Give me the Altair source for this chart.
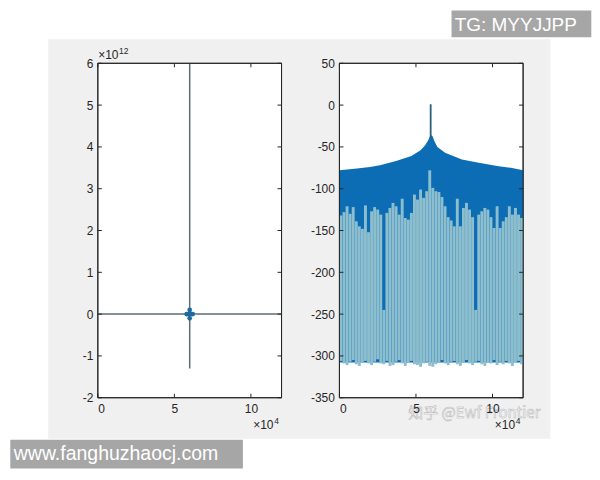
import altair as alt
import pandas as pd

FONT = "Liberation Sans"
INK = "#262626"
W, H = 184, 335

# ---------------- left panel (x in units of 1e4, y in units of 1e12)
left_x_ticks = [0, 5, 10]
left_y_ticks = [-2, -1, 0, 1, 2, 3, 4, 5, 6]
zero_line_x = [0, 12]
zero_line_y = [0]
peak_line_x = [6]
peak_line_y = [-1.3, 6]
blob_x = [5.8, 5.9, 6.0, 6.1, 6.2, 6.0, 6.0]
blob_y = [0, 0, 0, 0, 0, 0.1, -0.1]

# ---------------- right panel (x in units of 1e4, y in dB)
right_x_ticks = [0, 5, 10]
right_y_ticks = [-350, -300, -250, -200, -150, -100, -50, 0, 50]
env_x = [0, 1, 2, 2.65, 3.7, 4.7, 5.3, 5.6, 5.8, 5.92, 6.0, 6.08, 6.2, 6.4,
         6.9, 8.0, 9.1, 10.4, 11.2, 12]
env_y = [-78, -76, -74, -72, -67, -61, -54, -48, -42, -37, -36, -37, -43, -50,
         -57, -65, -69, -73, -75, -78]
floor_db = [-308]
spike_x = [5.96]
spike_y = [-40, 1]
comb_x = [0.1, 0.3, 0.5, 0.7, 0.9, 1.1, 1.3, 1.5, 1.7, 1.9,
          2.1, 2.3, 2.5, 2.7, 2.9, 3.1, 3.3, 3.5, 3.7, 3.9,
          4.1, 4.3, 4.5, 4.7, 4.9, 5.1, 5.3, 5.5, 5.7, 5.9,
          6.1, 6.3, 6.5, 6.7, 6.9, 7.1, 7.3, 7.5, 7.7, 7.9,
          8.1, 8.3, 8.5, 8.7, 8.9, 9.1, 9.3, 9.5, 9.7, 9.9,
          10.1, 10.3, 10.5, 10.7, 10.9, 11.1, 11.3, 11.5, 11.7, 11.9]
comb_top = [-132, -128, -121, -130, -122, -139, -145, -148, -120, -152,
            -127, -122, -125, -131, -245, -129, -123, -117, -121, -131,
            -112, -135, -137, -129, -107, -113, -101, -111, -103, -78,
            -99, -103, -104, -110, -121, -134, -138, -145, -112, -145,
            -123, -117, -125, -134, -245, -131, -127, -123, -125, -134,
            -147, -121, -147, -139, -134, -121, -131, -123, -131, -135]
comb_bottom = [-306, -309, -311, -307, -305, -310, -312, -308, -306, -309,
               -311, -307, -304, -309, -310, -306, -312, -311, -307, -305,
               -309, -312, -308, -306, -310, -311, -313, -309, -307, -312,
               -313, -310, -308, -305, -309, -311, -307, -306, -310, -312,
               -308, -305, -309, -311, -307, -306, -310, -312, -308, -309,
               -305, -311, -307, -310, -306, -309, -312, -308, -306, -310]

# ---------------- texts
sci_y_left = ("×10", "12")
sci_x = ("×10", "4")
wm_site = "www.fanghuzhaocj.com"
wm_tg = "TG: MYYJJPP"
wm_zhihu = "知乎 @Ewf Frontier"

one = alt.Chart(pd.DataFrame({"k": [0]}))

# scales / axes
xs_l = alt.Scale(domain=[0, 12], nice=False, zero=False)
ys_l = alt.Scale(domain=[-2, 6], nice=False, zero=False)
xs_r = alt.Scale(domain=[0, 12], nice=False, zero=False)
ys_r = alt.Scale(domain=[-350, 50], nice=False, zero=False)

def xaxis(vals):
    return alt.Axis(values=vals, labelExpr="'' + datum.value", title=None,
                    labelPadding=6, zindex=1)

def yaxis(vals):
    return alt.Axis(values=vals, labelExpr="'' + datum.value", title=None,
                    labelPadding=5, zindex=1)

def LX(f):
    return alt.X(f, type="quantitative", scale=xs_l, axis=xaxis(left_x_ticks))

def LY(f):
    return alt.Y(f, type="quantitative", scale=ys_l, axis=yaxis(left_y_ticks))

def RX(f):
    return alt.X(f, type="quantitative", scale=xs_r, axis=xaxis(right_x_ticks))

def RY(f):
    return alt.Y(f, type="quantitative", scale=ys_r, axis=yaxis(right_y_ticks))


def box(fill=True):
    if fill:
        m = one.mark_rect(fill="white", stroke=INK, strokeWidth=1)
    else:
        m = one.mark_rect(fillOpacity=0, stroke=INK, strokeWidth=1)
    return m.encode(x=alt.value(0), x2=alt.value(W), y=alt.value(0), y2=alt.value(H))


def ticks(xfun, yfun, xt, yt):
    dx = pd.DataFrame({"x": xt})
    dy = pd.DataFrame({"y": yt})
    r = dict(color=INK, strokeWidth=1)
    return [
        alt.Chart(dx).mark_rule(**r).encode(x=xfun("x"), y=alt.value(H), y2=alt.value(H - 4)),
        alt.Chart(dx).mark_rule(**r).encode(x=xfun("x"), y=alt.value(0), y2=alt.value(4)),
        alt.Chart(dy).mark_rule(**r).encode(y=yfun("y"), x=alt.value(0), x2=alt.value(4)),
        alt.Chart(dy).mark_rule(**r).encode(y=yfun("y"), x=alt.value(W - 4), x2=alt.value(W)),
    ]


def txt(s, x, y, size=12, color=INK, align="left", font=FONT, **kw):
    return one.mark_text(align=align, baseline="alphabetic", font=font,
                         fontSize=size, color=color, **kw).encode(
        x=alt.value(x), y=alt.value(y), text=alt.value(s))


def sci(pair, x, y):
    return [txt(pair[0], x, y, 12), txt(pair[1], x + 21, y - 5, 8.5)]


# ---------------- decorations (page frame + watermarks), left-panel coords
gray_bg = one.mark_rect(color="#f0f0f0").encode(
    x=alt.value(-49.7), x2=alt.value(453.3), y=alt.value(-24), y2=alt.value(376))
site_box = one.mark_rect(color="#a6a6a6").encode(
    x=alt.value(-87.7), x2=alt.value(145.3), y=alt.value(377), y2=alt.value(406))
site_txt = txt(wm_site, -84.2, 397.5, 19.5, "white")
tg_box = one.mark_rect(color="#a6a6a6").encode(
    x=alt.value(354.3), x2=alt.value(494.3), y=alt.value(-53), y2=alt.value(-26))
tg_txt = txt(wm_tg, 357.5, -32, 19, "white")

# ---------------- left panel
zl = pd.DataFrame({"x": [zero_line_x[0]], "x2": [zero_line_x[1]], "y": zero_line_y})
pl = pd.DataFrame({"x": peak_line_x, "y": [peak_line_y[0]], "y2": [peak_line_y[1]]})
bl = pd.DataFrame({"x": blob_x, "y": blob_y})
LINE = "#5d6d76"

zero_line = alt.Chart(zl).mark_rule(color=LINE, strokeWidth=1.5).encode(
    x=LX("x"), x2="x2", y=LY("y"))
peak_line = alt.Chart(pl).mark_rule(color=LINE, strokeWidth=1.5).encode(
    x=LX("x"), y=LY("y"), y2="y2")
blob = alt.Chart(bl).mark_point(filled=True, size=22, color="#1d6a9c", opacity=1).encode(
    x=LX("x"), y=LY("y"))

left = alt.layer(
    gray_bg, site_box, site_txt, tg_box, tg_txt,
    box(True), zero_line, peak_line, blob,
    *ticks(LX, LY, left_x_ticks, left_y_ticks),
    box(False),
    *sci(sci_y_left, 0.3, -4),
    *sci(sci_x, 155.6, 366),
).properties(width=W, height=H)

# ---------------- right panel
env = pd.DataFrame({"x": env_x, "y": env_y, "y2": floor_db * len(env_x)})
comb = pd.DataFrame({"x": comb_x, "y": comb_bottom, "y2": comb_top})
sp = pd.DataFrame({"x": spike_x, "y": [spike_y[0]], "y2": [spike_y[1]]})

area = alt.Chart(env).mark_area(color="#0c6db5", opacity=1).encode(
    x=RX("x"), y=RY("y"), y2="y2")
bars = alt.Chart(comb).mark_rule(color="#8dbecd", strokeWidth=2.9).encode(
    x=RX("x"), y=RY("y"), y2="y2")
spike = alt.Chart(sp).mark_rule(color="#2c5e80", strokeWidth=1.8).encode(
    x=RX("x"), y=RY("y"), y2="y2")

zhihu = txt(wm_zhihu, 69, 355, 15, "white", font="Noto Sans CJK SC",
            stroke="#a8a8a8", strokeWidth=0.5, opacity=0.85)

right = alt.layer(
    box(True), area, bars, spike,
    *ticks(RX, RY, right_x_ticks, right_y_ticks),
    box(False),
    *sci(sci_x, 155.6, 366),
    zhihu,
).properties(width=W, height=H)

chart = alt.hconcat(left, right, spacing=58, bounds="flush").properties(
    padding={"left": 2, "top": 2, "right": 0, "bottom": 0},
    background="white",
).configure_view(strokeWidth=0).configure_axis(
    domain=False, ticks=False, grid=False, labelFont=FONT, labelFontSize=12,
    labelColor=INK)

chart.save("out.html", embed_options={"renderer": "svg", "actions": False})
